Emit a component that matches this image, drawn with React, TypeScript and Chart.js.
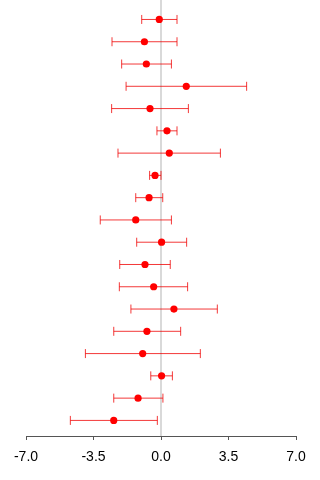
import React, { useEffect, useRef } from "react";
import { Chart, registerables } from "chart.js";

Chart.register(...registerables);

// Point estimates with their lower/upper interval bounds, top row first
const estimates = [-0.09, -0.86, -0.76, 1.31, -0.57, 0.31, 0.43, -0.31, -0.62, -1.31, 0.03, -0.83, -0.38, 0.67, -0.73, -0.95, 0.03, -1.19, -2.45];
const lower = [-1.0, -2.54, -2.04, -1.81, -2.56, -0.21, -2.23, -0.59, -1.31, -3.15, -1.26, -2.14, -2.16, -1.56, -2.45, -3.92, -0.53, -2.45, -4.7];
const upper = [0.83, 0.83, 0.54, 4.44, 1.42, 0.83, 3.08, 0.0, 0.09, 0.54, 1.33, 0.48, 1.38, 2.92, 1.02, 2.04, 0.59, 0.1, -0.19];
const xTicks = [-7, -3.5, 0, 3.5, 7];

const BAR_COLOR = "rgba(240, 0, 0, 0.78)";
const POINT_COLOR = "#ff0000";

const intervalPlugin = {
  id: "intervals",
  beforeDatasetsDraw(chart: any) {
    const { ctx, chartArea, scales } = chart;
    const xs = scales.x;
    const ys = scales.y;
    ctx.save();
    // reference line at zero
    const x0 = xs.getPixelForValue(0);
    ctx.strokeStyle = "#d9d9d9";
    ctx.lineWidth = 2;
    ctx.beginPath();
    ctx.moveTo(x0, 0);
    ctx.lineTo(x0, chartArea.bottom);
    ctx.stroke();

    // horizontal interval bars with end caps
    ctx.strokeStyle = BAR_COLOR;
    ctx.lineWidth = 1;
    const cap = 4.5;
    estimates.forEach((_, i) => {
      const y = ys.getPixelForValue(i + 1);
      const xl = xs.getPixelForValue(lower[i]);
      const xh = xs.getPixelForValue(upper[i]);
      ctx.beginPath();
      ctx.moveTo(xl, y);
      ctx.lineTo(xh, y);
      ctx.moveTo(xl, y - cap);
      ctx.lineTo(xl, y + cap);
      ctx.moveTo(xh, y - cap);
      ctx.lineTo(xh, y + cap);
      ctx.stroke();
    });
    ctx.restore();
  },
};

export default function App() {
  const canvasRef = useRef<HTMLCanvasElement | null>(null);

  useEffect(() => {
    const canvas = canvasRef.current;
    if (!canvas) return;
    const chart = new Chart(canvas, {
      type: "scatter",
      data: {
        datasets: [
          {
            data: estimates.map((v, i) => ({ x: v, y: i + 1 })),
            pointRadius: 3.6,
            pointBackgroundColor: POINT_COLOR,
            pointBorderWidth: 0,
            pointHoverRadius: 3.6,
          },
        ],
      },
      options: {
        responsive: false,
        animation: false,
        events: [],
        layout: { padding: { left: 26, right: 24, top: 0, bottom: 0 } },
        plugins: { legend: { display: false }, tooltip: { enabled: false } },
        scales: {
          x: {
            type: "linear",
            min: -7,
            max: 7,
            afterBuildTicks: (scale: any) => {
              scale.ticks = xTicks.map((v) => ({ value: v }));
            },
            afterFit: (scale: any) => {
              scale.height = 44;
            },
            grid: {
              drawOnChartArea: false,
              drawTicks: true,
              tickLength: 4,
              color: "#555555",
              lineWidth: 1,
            },
            border: { display: true, color: "#555555", width: 1 },
            ticks: {
              color: "#000000",
              padding: 9,
              maxRotation: 0,
              autoSkip: false,
              font: { family: "'Liberation Sans', Arial, sans-serif", size: 14 },
              callback: (v: any) => Number(v).toFixed(1),
            },
          },
          y: {
            type: "linear",
            display: false,
            reverse: true,
            min: 0.2876,
            max: 19.7,
          },
        },
      },
      plugins: [intervalPlugin],
    });
    return () => chart.destroy();
  }, []);

  return (
    <div style={{ position: "absolute", left: 0, top: 0, width: 320, height: 480, background: "#fff" }}>
      <canvas ref={canvasRef} width={320} height={480} />
    </div>
  );
}
